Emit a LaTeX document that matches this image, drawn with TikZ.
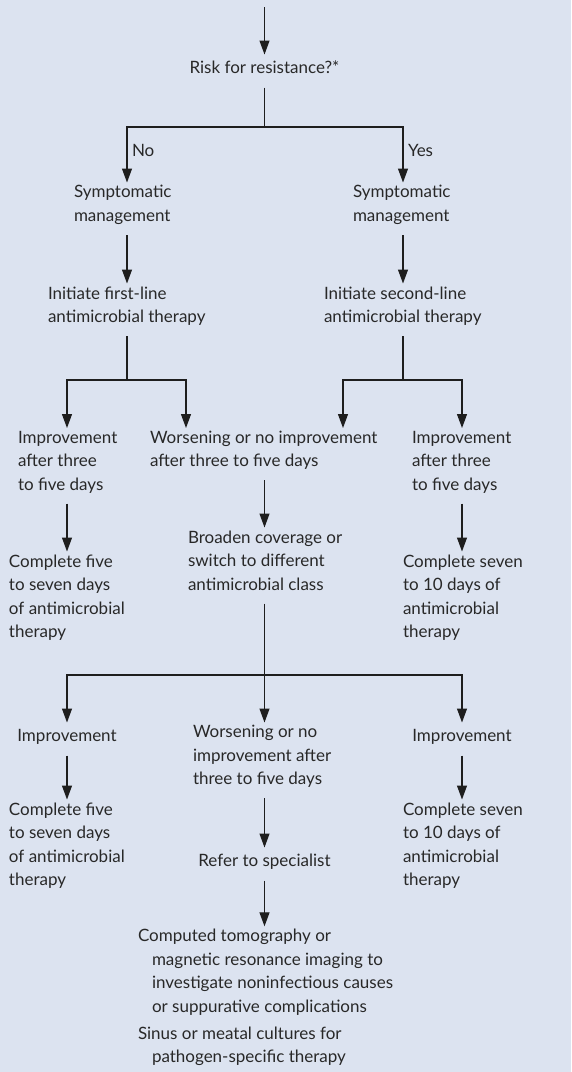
\documentclass[tikz,border=0pt]{standalone}
\usepackage{fontspec}
\setmainfont{Lato}
\usetikzlibrary{arrows.meta}
\definecolor{bgc}{RGB}{220,227,240}
\definecolor{txtc}{RGB}{40,40,40}
\definecolor{linec}{RGB}{30,30,30}
\newcommand{\fs}{\fontsize{17}{23.5}\selectfont}
\newcommand{\ind}{\hspace*{14pt}}
\begin{document}
\begin{tikzpicture}[x=1pt,y=-1pt,
  txt/.style={inner sep=0pt, outer sep=0pt, align=left, anchor=north west, font=\fs, text=txtc,
    execute at begin node=\strut, execute at end node=\strut},
  ctxt/.style={txt, align=center, anchor=north},
  ln/.style={draw=linec, line width=1.2pt},
  arr/.style={ln, -{Triangle[length=14pt,width=10pt]}, shorten >=3pt},
  fromtxt/.style={shorten <=6.5pt}
]
\fill[bgc] (0,0) rectangle (571,1072);
\useasboundingbox (0,0) rectangle (571,1072);

% text nodes (top y = first baseline - 16.45)
\node[ctxt] (risk) at (264.5,57.5) {Risk for resistance?*};
\node[txt] (no) at (132,140.5) {No};
\node[txt] (yes) at (408,140.5) {Yes};
\node[txt] (sympL) at (74,185.5) {Symptomatic\\management};
\node[txt] (sympR) at (353,185.5) {Symptomatic\\management};
\node[txt] (initL) at (48,286.5) {Initiate first-line\\antimicrobial therapy};
\node[txt] (initR) at (324,286.5) {Initiate second-line\\antimicrobial therapy};
\node[txt] (impL) at (18,431) {Improvement\\after three\\to five days};
\node[txt] (wors) at (150,431) {Worsening or no improvement\\after three to five days};
\node[txt] (impR) at (412,431) {Improvement\\after three\\to five days};
\node[txt] (broad) at (188,530.5) {Broaden coverage or\\switch to different\\antimicrobial class};
\node[txt] (compL) at (9,554.5) {Complete five\\to seven days\\of antimicrobial\\therapy};
\node[txt] (compR) at (403,554.5) {Complete seven\\to 10 days of\\antimicrobial\\therapy};
\node[ctxt] (imp2L) at (67,725.5) {Improvement};
\node[txt] (wors2) at (193,725.5) {Worsening or no\\improvement after\\three to five days};
\node[ctxt] (imp2R) at (462,725.5) {Improvement};
\node[txt] (comp2L) at (9,802.5) {Complete five\\to seven days\\of antimicrobial\\therapy};
\node[txt] (comp2R) at (403,802.5) {Complete seven\\to 10 days of\\antimicrobial\\therapy};
\node[ctxt] (refer) at (264.5,850.5) {Refer to specialist};
\node[txt] (ct) at (138,929.3) {Computed tomography or\\\ind magnetic resonance imaging to\\\ind investigate noninfectious causes\\\ind or suppurative complications};
\node[txt] (sinus) at (138,1026.5) {Sinus or meatal cultures for\\\ind pathogen-specific therapy};

% coordinates
\coordinate (start) at (264.5,7);
\coordinate (jr) at (264.5,127);
\coordinate (bL) at (127,127);
\coordinate (bR) at (403,127);
\coordinate (jL) at (127,380);
\coordinate (jRR) at (403,380);
\coordinate (c67) at (67,380);
\coordinate (c186) at (186,380);
\coordinate (c343) at (343,380);
\coordinate (c462) at (462,380);
\coordinate (jB) at (264.5,675);
\coordinate (d67) at (67,675);
\coordinate (d462) at (462,675);

% connectors
\draw[arr] (start) -- (risk.north);
\draw[ln, fromtxt] (risk.south) -- (jr);
\draw[arr] (jr) -- (bL) -- (bL |- sympL.north);
\draw[arr] (jr) -- (bR) -- (bR |- sympR.north);
\draw[arr, fromtxt] (sympL.south -| bL) -- (initL.north -| bL);
\draw[arr, fromtxt] (sympR.south -| bR) -- (initR.north -| bR);
\draw[ln, fromtxt] (initL.south -| jL) -- (jL);
\draw[ln, fromtxt] (initR.south -| jRR) -- (jRR);
\draw[arr] (jL) -- (c67) -- (impL.north -| c67);
\draw[arr] (jL) -- (c186) -- (wors.north -| c186);
\draw[arr] (jRR) -- (c343) -- (wors.north -| c343);
\draw[arr] (jRR) -- (c462) -- (impR.north -| c462);
\draw[arr, fromtxt] (impL.south -| c67) -- (compL.north -| c67);
\draw[arr, fromtxt] (wors.south -| jB) -- (broad.north -| jB);
\draw[arr, fromtxt] (impR.south -| c462) -- (compR.north -| c462);
\draw[ln, fromtxt] (broad.south -| jB) -- (jB);
\draw[arr] (jB) -- (d67) -- (imp2L.north -| d67);
\draw[arr] (jB) -- (wors2.north -| jB);
\draw[arr] (jB) -- (d462) -- (imp2R.north -| d462);
\draw[arr, fromtxt] (imp2L.south) -- (comp2L.north -| imp2L.south);
\draw[arr, fromtxt] (imp2R.south) -- (comp2R.north -| imp2R.south);
\draw[arr, fromtxt] (wors2.south -| jB) -- (refer.north);
\draw[arr, fromtxt] (refer.south) -- (ct.north -| refer.south);
\end{tikzpicture}
\end{document}
